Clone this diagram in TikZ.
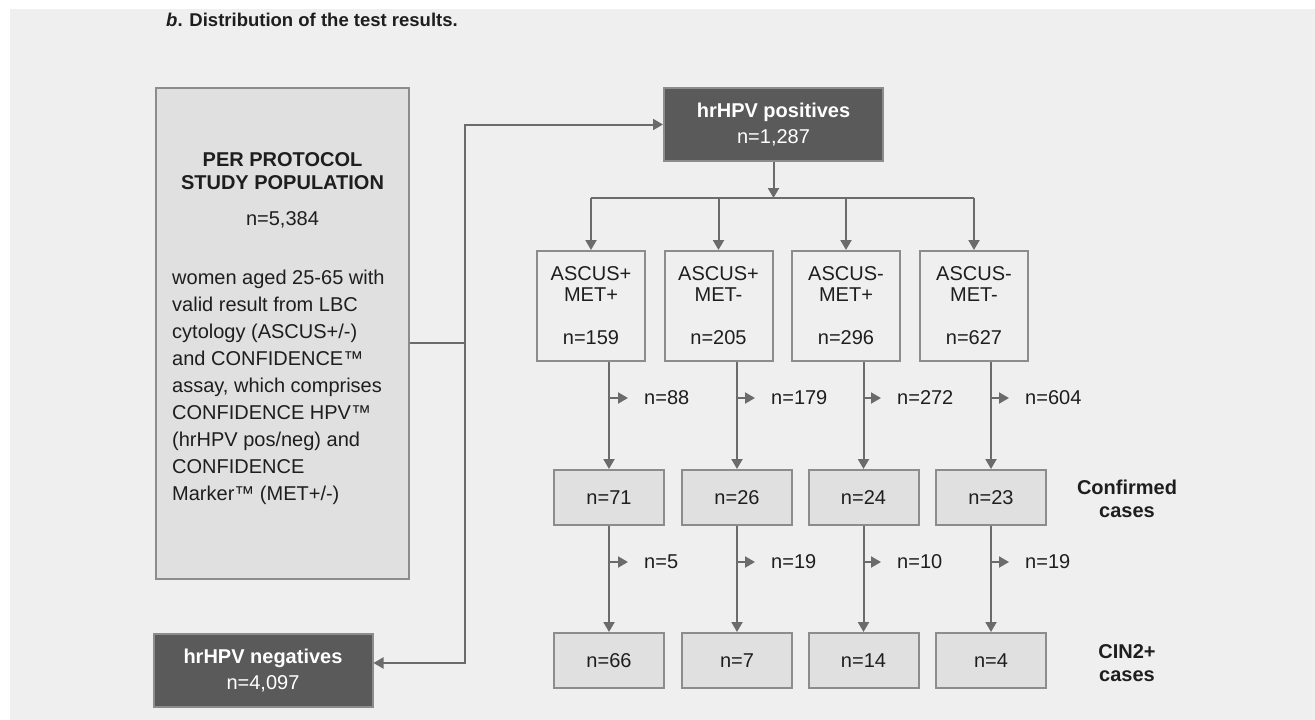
\documentclass[tikz,border=0pt]{standalone}
\usepackage{fontspec}
\setmainfont{Liberation Sans}
\usepackage{tikz}
\usetikzlibrary{positioning, calc, arrows.meta}
\definecolor{hpBack}{HTML}{EFEFEF}
\definecolor{hpLine}{HTML}{6B6B6B}
\definecolor{hpEdge}{HTML}{8C8C8C}
\definecolor{hpDark}{HTML}{5A5A5A}
\definecolor{hpLight}{HTML}{E0E0E0}
\definecolor{hpText}{HTML}{1E1E1E}
\tikzset{
    base/.style={
        font=\fontsize{20}{27}\selectfont,
        text=hpText,
        align=center,
        inner sep=0pt
    },
    popbox/.style={
        rectangle,
        draw=hpEdge,
        line width=2pt,
        fill=hpLight,
        minimum width=253pt,
        minimum height=491pt
    },
    darkbox/.style={
        base,
        rectangle,
        draw=hpEdge,
        line width=2pt,
        fill=hpDark,
        text=white,
        minimum width=219pt,
        minimum height=73pt,
        font=\fontsize{20}{26}\selectfont
    },
    groupbox/.style={
        base,
        rectangle,
        draw=hpEdge,
        line width=2pt,
        fill=hpBack,
        minimum width=108pt,
        minimum height=110pt,
        font=\fontsize{20}{21}\selectfont
    },
    casebox/.style={
        base,
        rectangle,
        draw=hpEdge,
        line width=2pt,
        fill=hpLight,
        minimum width=110pt,
        minimum height=55pt
    },
    flow/.style={
        -{Triangle[length=10pt, width=11pt]},
        line width=2pt,
        color=hpLine
    },
    link/.style={
        line width=2pt,
        color=hpLine
    },
    count/.style={
        base,
        anchor=west
    },
    rowlabel/.style={
        base,
        font=\bfseries\fontsize{20}{23}\selectfont
    }
}

\begin{document}
\begin{tikzpicture}[x=1pt, y=-1pt]
  % Canvas
  \fill[white] (0,0) rectangle (1315,720);
  \fill[hpBack] (10,9) rectangle (1315,720);
  \node[base, anchor=west, font=\bfseries\fontsize{18.5}{22}\selectfont] (title) at (166,19.5) {\textit{b}. Distribution of the test results.};

  % Study population
  \node[popbox] (pop) at (282.5,333.5) {};
  \node[base, font=\bfseries\fontsize{20}{23}\selectfont] (pophead) at (282.5,171.5) {PER PROTOCOL\\STUDY POPULATION};
  \node[base] (popn) at (282.5,220) {n=5,384};
  \node[base, anchor=north west, align=left] (popinfo) at (172,270) {women aged 25-65 with\\valid result from LBC\\cytology (ASCUS+/-)\\and CONFIDENCE™\\assay, which comprises\\CONFIDENCE HPV™\\(hrHPV pos/neg) and\\CONFIDENCE\\Marker™ (MET+/-)};

  % hrHPV split
  \node[darkbox] (pos) at (773.5,124.5) {\textbf{hrHPV positives}\\n=1,287};
  \node[darkbox] (neg) at (263,670.5) {\textbf{hrHPV negatives}\\n=4,097};
  \coordinate (fork) at (465,343);
  \draw[link] ([yshift=-9.5pt]pop.east) -- (fork);
  \draw[flow] (fork) |- (pos.west);
  \draw[flow] (fork) |- ([yshift=7.5pt]neg.east);

  % Groups
  \node[groupbox] (g1) at (591,306) {ASCUS+\\MET+\\[22pt]n=159};
  \node[groupbox] (g2) at (718.5,306) {ASCUS+\\MET-\\[22pt]n=205};
  \node[groupbox] (g3) at (846,306) {ASCUS-\\MET+\\[22pt]n=296};
  \node[groupbox] (g4) at (974,306) {ASCUS-\\MET-\\[22pt]n=627};
  \draw[flow] (pos.south) -- ++(0,36) coordinate (bus);
  \draw[link] (g1.north |- bus) -- (g4.north |- bus);
  \draw[flow] (g1.north |- bus) -- (g1.north);
  \draw[flow] (g2.north |- bus) -- (g2.north);
  \draw[flow] (g3.north |- bus) -- (g3.north);
  \draw[flow] (g4.north |- bus) -- (g4.north);

  % Confirmed cases
  \node[casebox] (f1) at (609,497.5) {n=71};
  \node[casebox] (f2) at (737,497.5) {n=26};
  \node[casebox] (f3) at (863.5,497.5) {n=24};
  \node[casebox] (f4) at (991,497.5) {n=23};
  \draw[flow] (g1.south -| f1.north) -- (f1.north);
  \draw[flow] (g2.south -| f2.north) -- (f2.north);
  \draw[flow] (g3.south -| f3.north) -- (f3.north);
  \draw[flow] (g4.south -| f4.north) -- (f4.north);

  % CIN2+ cases
  \node[casebox] (d1) at (609,660.5) {n=66};
  \node[casebox] (d2) at (737,660.5) {n=7};
  \node[casebox] (d3) at (863.5,660.5) {n=14};
  \node[casebox] (d4) at (991,660.5) {n=4};
  \draw[flow] (f1) -- (d1);
  \draw[flow] (f2) -- (d2);
  \draw[flow] (f3) -- (d3);
  \draw[flow] (f4) -- (d4);

  % Drop-outs
  \node[count] (m1) at (644,398) {n=88};
  \node[count] (m2) at (771,398) {n=179};
  \node[count] (m3) at (897,398) {n=272};
  \node[count] (m4) at (1025,398) {n=604};
  \node[count] (k1) at (644,562) {n=5};
  \node[count] (k2) at (771,562) {n=19};
  \node[count] (k3) at (897,562) {n=10};
  \node[count] (k4) at (1025,562) {n=19};
  \draw[flow] (f1.north |- m1.west) -- ([xshift=-16pt]m1.west);
  \draw[flow] (f2.north |- m2.west) -- ([xshift=-16pt]m2.west);
  \draw[flow] (f3.north |- m3.west) -- ([xshift=-16pt]m3.west);
  \draw[flow] (f4.north |- m4.west) -- ([xshift=-16pt]m4.west);
  \draw[flow] (d1.north |- k1.west) -- ([xshift=-16pt]k1.west);
  \draw[flow] (d2.north |- k2.west) -- ([xshift=-16pt]k2.west);
  \draw[flow] (d3.north |- k3.west) -- ([xshift=-16pt]k3.west);
  \draw[flow] (d4.north |- k4.west) -- ([xshift=-16pt]k4.west);

  % Row labels
  \node[rowlabel] (conf) at (1127,498.5) {Confirmed\\cases};
  \node[rowlabel] (cin) at (1127,663.5) {CIN2+\\cases};
\end{tikzpicture}
\end{document}
